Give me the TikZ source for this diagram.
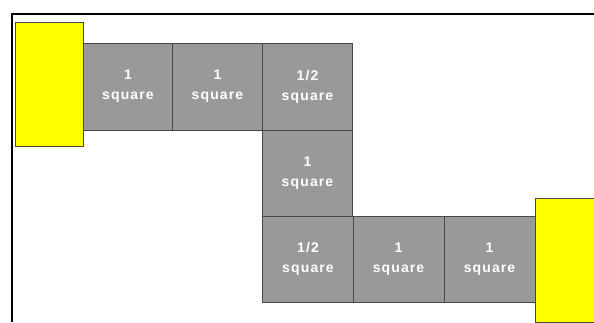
\documentclass[tikz,border=0pt]{standalone}
\usepackage{fontspec}
\setmainfont{Liberation Sans}
\definecolor{cellgray}{HTML}{999999}
\definecolor{celledge}{HTML}{474747}
\definecolor{endyellow}{HTML}{FFFF00}

\begin{document}
\begin{tikzpicture}[
    x = 1pt, y = -1pt,
    cell/.style = {
      rectangle, draw = celledge, fill = cellgray, line width = 1pt,
      minimum width = 90pt, minimum height = 87pt, inner sep = 0pt,
      align = center, text = white,
      font = \fontsize{14}{20}\selectfont\bfseries\addfontfeature{LetterSpace=8}
    },
    endbox/.style = {
      rectangle, draw = celledge, fill = endyellow, line width = 0.8pt,
      minimum width = 68pt, minimum height = 124pt, inner sep = 0pt
    }
  ]

  \useasboundingbox (0,0) rectangle (594,322);
  \clip (0,0) rectangle (594,322);

  % ---- Frame ----
  \draw[line width = 2pt] (12,322) -- (12,14) -- (594,14);

  % ---- Ends ----
  \node[endbox] (start) at (49,84) {};
  \node[endbox] (goal)  at (569,260) {};

  % ---- Row 1 ----
  \node[cell] (sqA) at (128,86.5)   {1\\square};
  \node[cell] (sqB) at (217.5,86.5) {1\\square};
  \node[cell] (sqC) at (307.5,86.5) {1/2\\square};

  % ---- Column ----
  \node[cell, minimum height = 86pt] (sqD) at (307.5,173) {1\\square};

  % ---- Row 3 ----
  \node[cell, minimum height = 86pt, minimum width = 91pt] (sqE) at (308,259) {1/2\\square};
  \node[cell, minimum height = 86pt, minimum width = 91pt] (sqF) at (398.5,259) {1\\square};
  \node[cell, minimum height = 86pt, minimum width = 91pt] (sqG) at (489.5,259) {1\\square};

\end{tikzpicture}
\end{document}
